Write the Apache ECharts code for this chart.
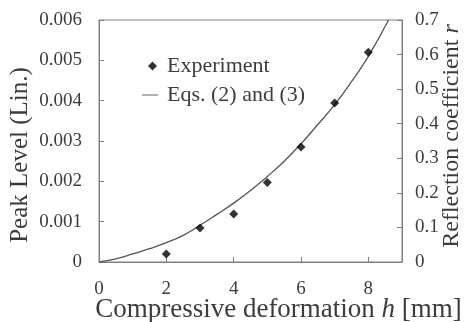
<!DOCTYPE html>
<html>
<head>
<meta charset="utf-8">
<script src="https://cdn.jsdelivr.net/npm/echarts@6/dist/echarts.min.js"></script>
<style>
  html, body { margin: 0; padding: 0; background: #fff; }
  #main { width: 467px; height: 322px; }
</style>
</head>
<body>
<div id="main"></div>
<script>
// measured points (h [mm], peak level)
var expH = [2, 3, 4, 5, 6, 7, 8];
var expPeak = [0.0002, 0.00084, 0.00119, 0.00197, 0.00285, 0.00394, 0.0052];

// Eqs. (2) and (3) curve
var eqH = [0, 0.5, 1, 1.5, 2, 2.5, 3, 3.5, 4, 4.5, 5, 5.5, 6, 6.5, 7, 7.5, 8, 8.6];
var eqPeak = [0, 0.00008, 0.0002, 0.00033, 0.00048, 0.00066, 0.00091, 0.00118, 0.00146,
              0.00177, 0.00212, 0.0025, 0.00293, 0.00341, 0.0039, 0.00447, 0.0051, 0.006];

var serif = 'Liberation Serif';
var txtColor = '#3c3c3c';
var axColor = '#808080';

function pairs(xs, ys) {
  var out = [];
  for (var i = 0; i < xs.length; i++) out.push([xs[i], ys[i]]);
  return out;
}

var chart = echarts.init(document.getElementById('main'));
chart.setOption({
  animation: false,
  textStyle: { fontFamily: serif, color: txtColor },
  grid: {
    left: 99, right: 65, top: 20, bottom: 60,
    outerBoundsMode: 'none',
    show: true, borderColor: axColor, borderWidth: 1
  },
  legend: [{
    data: ['Experiment'],
    left: 148, top: 55, padding: 0,
    itemWidth: 9, itemHeight: 9,
    textStyle: { fontFamily: serif, fontSize: 22, color: txtColor, padding: [0, 0, 0, 5] }
  }, {
    data: [{ name: 'Eqs. (2) and (3)', icon: 'path://M0,0 H16 V1.3 H0 Z' }],
    left: 142, top: 84, padding: 0,
    itemWidth: 16, itemHeight: 10,
    textStyle: { fontFamily: serif, fontSize: 22, color: txtColor, padding: [0, 0, 0, 4] }
  }],
  xAxis: {
    type: 'value', min: 0, max: 9, interval: 2,
    name: 'Compressive deformation {i|h} [mm]',
    nameLocation: 'middle', nameGap: 34,
    nameMoveOverlap: false,
    nameTextStyle: {
      fontFamily: serif, fontSize: 27, color: txtColor, padding: [0, 0, 0, 56],
      rich: { i: { fontFamily: serif, fontSize: 27, fontStyle: 'italic', color: txtColor } }
    },
    axisLine: { lineStyle: { color: axColor } },
    axisTick: { inside: true, length: 5, lineStyle: { color: axColor } },
    axisLabel: { fontFamily: serif, fontSize: 19, color: txtColor, margin: 18, showMaxLabel: false },
    splitLine: { show: false }
  },
  yAxis: [{
    type: 'value', min: 0, max: 0.006, interval: 0.001,
    name: 'Peak Level (Lin.)',
    nameLocation: 'middle', nameGap: 66,
    nameMoveOverlap: false,
    nameTextStyle: { fontFamily: serif, fontSize: 25, color: txtColor, padding: [0, 28, 0, 0] },
    axisLine: { show: true, lineStyle: { color: axColor } },
    axisTick: { show: true, inside: true, length: 5, lineStyle: { color: axColor } },
    axisLabel: { fontFamily: serif, fontSize: 19, color: txtColor, margin: 17 },
    splitLine: { show: false }
  }, {
    type: 'value', min: 0, max: 0.7, interval: 0.1,
    position: 'right',
    name: 'Reflection coefficient {i|r}',
    nameLocation: 'middle', nameGap: 38,
    nameMoveOverlap: false,
    nameRotate: 90,
    nameTextStyle: {
      fontFamily: serif, fontSize: 24, color: txtColor, padding: [0, 0, 0, 10],
      rich: { i: { fontFamily: serif, fontSize: 24, fontStyle: 'italic', color: txtColor } }
    },
    axisLine: { show: true, lineStyle: { color: axColor } },
    axisTick: { show: true, inside: true, length: 5, lineStyle: { color: axColor } },
    axisLabel: { fontFamily: serif, fontSize: 19, color: txtColor, margin: 13 },
    splitLine: { show: false }
  }],
  series: [{
    name: 'Experiment',
    type: 'scatter',
    symbol: 'diamond',
    symbolSize: 9,
    itemStyle: { color: '#000' },
    data: pairs(expH, expPeak),
    z: 3
  }, {
    name: 'Eqs. (2) and (3)',
    type: 'line',
    smooth: true,
    symbol: 'none',
    lineStyle: { color: '#555', width: 1.3 },
    itemStyle: { color: '#888' },
    data: pairs(eqH, eqPeak),
    z: 2
  }]
});
</script>
</body>
</html>
